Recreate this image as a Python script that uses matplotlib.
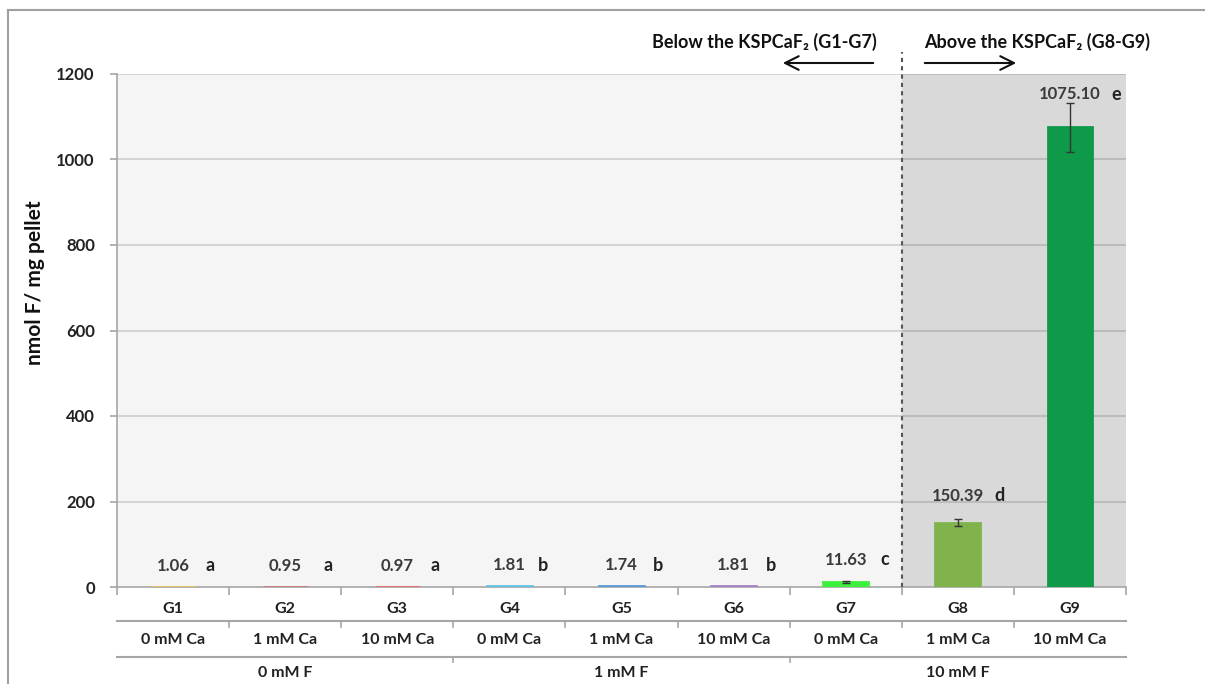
import matplotlib.pyplot as plt
import matplotlib.transforms as mtransforms
from matplotlib.lines import Line2D
from matplotlib.patches import FancyArrowPatch

plt.rcParams['font.family'] = ['Lato', 'DejaVu Sans']
plt.rcParams['font.weight'] = 'bold'
plt.rcParams['axes.labelweight'] = 'bold'

# data
groups = ['G1', 'G2', 'G3', 'G4', 'G5', 'G6', 'G7', 'G8', 'G9']
ca_levels = ['0 mM Ca', '1 mM Ca', '10 mM Ca', '0 mM Ca', '1 mM Ca', '10 mM Ca',
             '0 mM Ca', '1 mM Ca', '10 mM Ca']
f_levels = ['0 mM F', '1 mM F', '10 mM F']
values = [1.06, 0.95, 0.97, 1.81, 1.74, 1.81, 11.63, 150.39, 1075.10]
errors = [0, 0, 0, 0, 0, 0, 2.0, 8.0, 57.0]
letters = ['a', 'a', 'a', 'b', 'b', 'b', 'c', 'd', 'e']
colors = ['#e8c25a', '#c97b7b', '#e86a6a', '#63c3e3', '#5b9bd5', '#a484c4',
          '#3df03d', '#80b34c', '#0f9a49']

W, H = 1205, 684
fig = plt.figure(figsize=(W / 100, H / 100), dpi=100)
ax = fig.add_axes([117 / W, (H - 587) / H, (1126 - 117) / W, (587 - 74) / H])

x = list(range(len(groups)))
ax.set_xlim(-0.5, 8.5)
ax.set_ylim(0, 1200)
ax.set_facecolor('#f5f5f5')

# shaded region for the groups above the solubility product
ax.axvspan(6.5, 8.5, color='#d9d9d9', zorder=0)
for yv in range(200, 1201, 200):
    ax.axhline(yv, color='black', alpha=0.13, lw=1.5, zorder=1)

ax.bar(x, values, width=0.4, color=colors, edgecolor=colors, linewidth=2, zorder=3)
ex = [i for i in x if errors[i] > 0]
ax.errorbar(ex, [values[i] for i in ex], yerr=[errors[i] for i in ex], fmt='none',
            ecolor='#333333', elinewidth=1, capsize=3, capthick=1, zorder=4)

# value labels and significance letters
label_pad = [15, 15, 15, 15, 15, 15, 16, 19.5, 24]
letter_dx = [27, 31, 27, 24, 26, 27, 28, 30, 33]
for i, (v, s) in enumerate(zip(values, letters)):
    ax.annotate(f'{v:.2f}', xy=(i, v), xytext=(0, label_pad[i]), textcoords='offset points',
                ha='center', va='center', fontsize=12, color='#3a3a3a')
    ax.annotate(s, xy=(i, v), xytext=(letter_dx[i], label_pad[i]), textcoords='offset points',
                ha='center', va='center', fontsize=13, color='#222222')

# axes styling
for side in ['top', 'right']:
    ax.spines[side].set_visible(False)
for side in ['left', 'bottom']:
    ax.spines[side].set_color('#a6a6a6')
    ax.spines[side].set_linewidth(1.2)
ax.set_yticks(range(0, 1201, 200))
ax.tick_params(axis='y', length=5, width=1.2, color='#a6a6a6', labelsize=12,
               labelcolor='#222222', pad=11)
ax.set_xticks(x)
ax.set_xticklabels(groups)
ax.set_xticks([i - 0.5 for i in range(len(groups) + 1)], minor=True)
ax.tick_params(axis='x', which='major', length=0, labelsize=11.5, labelcolor='#222222', pad=11)
ax.tick_params(axis='x', which='minor', length=6, width=1.2, color='#a6a6a6')
ax.set_ylabel('nmol F/ mg pellet', fontsize=15, color='#111111')
ax.yaxis.set_label_coords(-0.071, 0.594)

# multi-level category rows under the axis
tr = mtransforms.blended_transform_factory(ax.transData, ax.transAxes)
ax.add_line(Line2D([-0.5, 8.5], [-0.066, -0.066], transform=tr, color='#a6a6a6', lw=1.5, clip_on=False))
ax.add_line(Line2D([-0.5, 8.5], [-0.136, -0.136], transform=tr, color='#a6a6a6', lw=1.5, clip_on=False))
for b in [0.5, 1.5, 2.5, 3.5, 4.5, 5.5, 6.5, 7.5]:
    ax.add_line(Line2D([b, b], [-0.066, -0.077], transform=tr, color='#a6a6a6', lw=1.2, clip_on=False))
for b in [2.5, 5.5]:
    ax.add_line(Line2D([b, b], [-0.136, -0.147], transform=tr, color='#a6a6a6', lw=1.2, clip_on=False))
for i, lab in enumerate(ca_levels):
    ax.text(i, -0.103, lab, transform=tr, ha='center', va='center', fontsize=11.5, color='#222222')
for j, lab in enumerate(f_levels):
    ax.text(3 * j + 1, -0.168, lab, transform=tr, ha='center', va='center', fontsize=11.5, color='#222222')

# dotted divider between G7 and G8
ax.add_line(Line2D([6.5, 6.5], [0, 1.043], transform=tr, color='#555555', lw=1.5,
                   linestyle=(0, (2, 2)), clip_on=False, zorder=5))

# header notes with arrows
fig.text(877 / W, 1 - 42 / H, 'Below the KSPCaF₂ (G1-G7)', ha='right', va='center',
         fontsize=13, color='#111111')
fig.text(924 / W, 1 - 42 / H, 'Above the KSPCaF₂ (G8-G9)', ha='left', va='center',
         fontsize=13, color='#111111')
arrow = dict(arrowstyle='->,head_length=0.7,head_width=0.35', color='#111111', lw=1.5)
fig.add_artist(FancyArrowPatch((876 / W, 1 - 63 / H), (780 / W, 1 - 63 / H),
               transform=fig.transFigure, mutation_scale=14, **arrow))
fig.add_artist(FancyArrowPatch((922 / W, 1 - 63 / H), (1019 / W, 1 - 63 / H),
               transform=fig.transFigure, mutation_scale=14, **arrow))

# outer frame
fig.add_artist(Line2D([8 / W, 1], [1 - 10 / H, 1 - 10 / H], transform=fig.transFigure,
                      color='#a0a0a0', lw=1.5))
fig.add_artist(Line2D([8 / W, 8 / W], [0, 1 - 10 / H], transform=fig.transFigure,
                      color='#a0a0a0', lw=1.5))

fig.savefig('out.png', dpi=100)
